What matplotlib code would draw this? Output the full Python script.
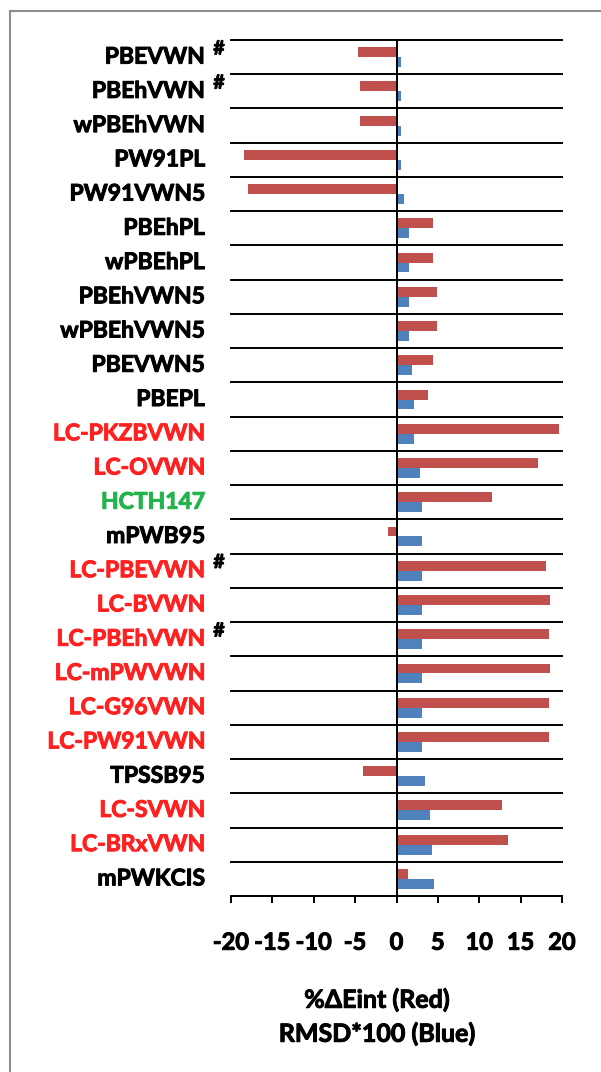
import matplotlib
matplotlib.use("Agg")
import matplotlib.pyplot as plt
import matplotlib.patheffects as pe
from matplotlib.lines import Line2D
from matplotlib.transforms import blended_transform_factory

plt.rcParams['font.family'] = ['Lato', 'DejaVu Sans']
plt.rcParams['font.weight'] = 'bold'

# functionals, top to bottom
methods = ["PBEVWN", "PBEhVWN", "wPBEhVWN", "PW91PL", "PW91VWN5", "PBEhPL",
           "wPBEhPL", "PBEhVWN5", "wPBEhVWN5", "PBEVWN5", "PBEPL",
           "LC-PKZBVWN", "LC-OVWN", "HCTH147", "mPWB95", "LC-PBEVWN",
           "LC-BVWN", "LC-PBEhVWN", "LC-mPWVWN", "LC-G96VWN", "LC-PW91VWN",
           "TPSSB95", "LC-SVWN", "LC-BRxVWN", "mPWKCIS"]
# %dEint (red bars)
d_eint = [-4.7, -4.4, -4.4, -18.4, -17.9, 4.4, 4.4, 4.9, 4.9, 4.4, 3.8,
          19.6, 17.1, 11.5, -1.0, 18.1, 18.6, 18.4, 18.6, 18.4, 18.4,
          -4.0, 12.8, 13.5, 1.4]
# RMSD*100 (blue bars)
rmsd100 = [0.6, 0.6, 0.6, 0.6, 0.9, 1.5, 1.5, 1.5, 1.5, 1.9, 2.1,
           2.1, 2.8, 3.1, 3.1, 3.1, 3.1, 3.1, 3.1, 3.1, 3.1,
           3.4, 4.1, 4.3, 4.5]
# label group: lc = long-range corrected, green = HCTH147
groups = ["std"] * 11 + ["lc", "lc", "green", "std", "lc", "lc", "lc", "lc",
                         "lc", "lc", "std", "lc", "lc", "std"]
flagged = ["PBEVWN", "PBEhVWN", "LC-PBEVWN", "LC-PBEhVWN"]
xticks = [-20, -15, -10, -5, 0, 5, 10, 15, 20]

label_colors = {"std": "black", "lc": "#FF2020", "green": "#22B34C"}
RED = "#C0504D"
BLUE = "#4F81BD"


def heavy(color):
    # thicken the glyphs a little with a same-colour outline
    return [pe.withStroke(linewidth=0.7, foreground=color)]


W, H = 601, 1072
fig = plt.figure(figsize=(W / 100, H / 100), dpi=100)
ax = fig.add_axes([231 / W, 1 - 896 / H, (562 - 231) / W, (896 - 40) / H])

n = len(methods)
rows = [i + 0.5 for i in range(n)]
bh = 0.29
ax.barh([r - bh / 2 for r in rows], d_eint, height=bh, color=RED, zorder=2)
ax.barh([r + bh / 2 for r in rows], rmsd100, height=bh, color=BLUE, zorder=2)

# row separators
for i in range(n):
    ax.plot([-20, 20], [i, i], color="black", lw=1.4, zorder=1, clip_on=False)
ax.axvline(0, color="black", lw=1.4, zorder=3)

ax.set_xlim(-20, 20)
ax.set_ylim(n, 0)
ax.set_yticks([])
for side in ("left", "right", "top"):
    ax.spines[side].set_visible(False)
ax.spines["bottom"].set_linewidth(1.4)
ax.set_xticks(xticks)
ax.set_xticklabels([str(t) for t in xticks])
ax.tick_params(axis="x", direction="out", length=5, width=1.4, pad=20,
               labelsize=17)
for lab in ax.get_xticklabels():
    lab.set_path_effects(heavy("black"))

# method names to the left of the plot
trans = blended_transform_factory(fig.transFigure, ax.transData)
for name, grp, r in zip(methods, groups, rows):
    c = label_colors[grp]
    ax.text(205 / W, r, name, transform=trans, ha="right", va="center",
            fontsize=16.5, fontweight="bold", color=c, path_effects=heavy(c))
    if name in flagged:
        ax.text(219 / W, r - 0.24, "#", transform=trans, ha="center",
                va="center", fontsize=14, fontweight="bold", color="black",
                path_effects=heavy("black"))

fig.text(377 / W, 1 - 1000 / H, "%ΔEint (Red)", ha="center", va="center",
         fontsize=18, fontweight="bold", path_effects=heavy("black"))
fig.text(377 / W, 1 - 1034 / H, "RMSD*100 (Blue)", ha="center", va="center",
         fontsize=18, fontweight="bold", path_effects=heavy("black"))

# chart frame (top and left edges)
fig.add_artist(Line2D([10 / W, 1], [1 - 11 / H, 1 - 11 / H],
                      transform=fig.transFigure, color="#8c8c8c", lw=1.5))
fig.add_artist(Line2D([10 / W, 10 / W], [1 - 11 / H, 0],
                      transform=fig.transFigure, color="#8c8c8c", lw=1.5))

fig.savefig("out.png", dpi=100)
